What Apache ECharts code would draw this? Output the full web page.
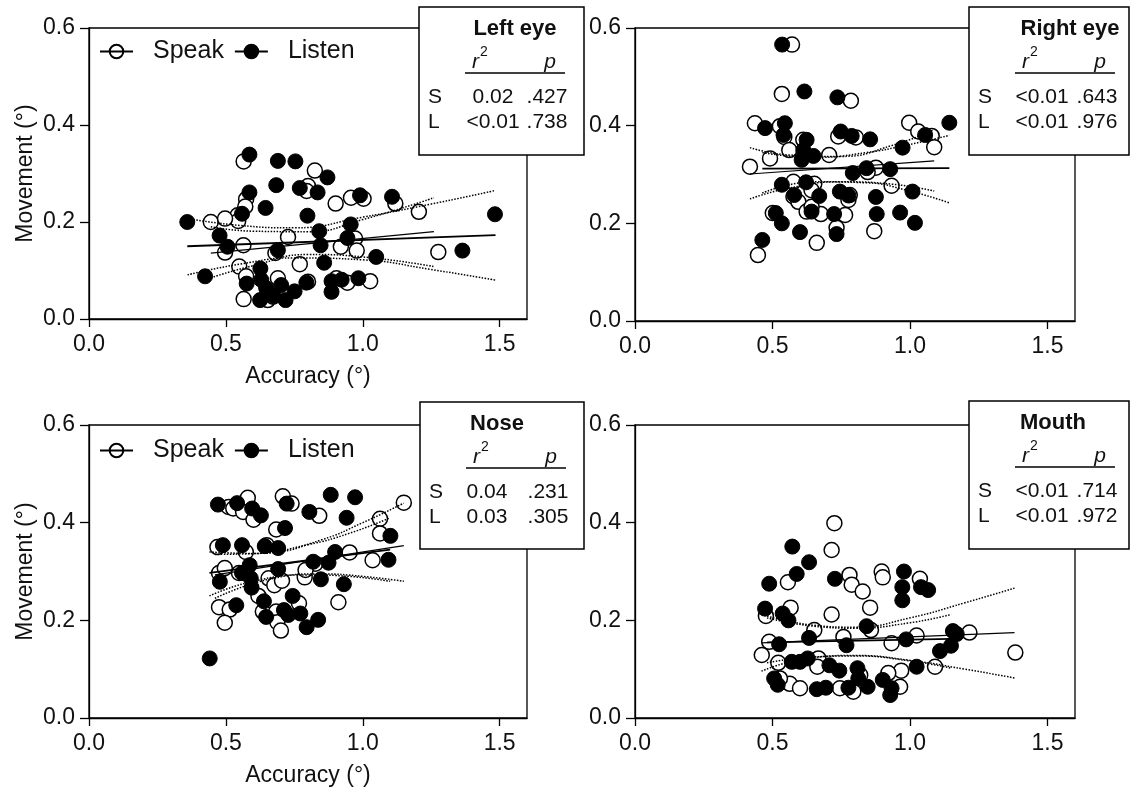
<!DOCTYPE html>
<html><head><meta charset="utf-8">
<script src="https://cdn.jsdelivr.net/npm/echarts@6/dist/echarts.min.js"></script>
<style>html,body{margin:0;padding:0;background:#fff}#c{width:1131px;height:794px}</style>
</head><body><div id="c"></div>
<script>
const FONT = '"Liberation Sans", Arial, sans-serif';

// ---------- tick labels ----------
const xTicks = [0, 0.5, 1.0, 1.5];
const yTicks = [0, 0.2, 0.4, 0.6];

// ---------- stats ----------
const panelTitles = ['Left eye', 'Right eye', 'Nose', 'Mouth'];
const speakR2 = ['0.02', '<0.01', '0.04', '<0.01'];
const speakP = ['.427', '.643', '.231', '.714'];
const listenR2 = ['<0.01', '<0.01', '0.03', '<0.01'];
const listenP = ['.738', '.976', '.305', '.972'];

// ---------- Left eye ----------
const leftEyeSpeak = [[0.565,0.325],[0.825,0.306],[0.800,0.274],[0.795,0.264],[0.574,0.247],[0.571,0.232],[0.543,0.214],[0.545,0.202],[0.445,0.200],[0.497,0.207],[0.901,0.238],[0.957,0.250],[1.003,0.248],[1.119,0.238],[1.205,0.221],[0.727,0.169],[0.972,0.166],[0.564,0.152],[0.497,0.137],[0.681,0.136],[0.920,0.149],[0.978,0.141],[1.276,0.138],[0.770,0.113],[0.549,0.108],[0.574,0.088],[0.690,0.084],[0.800,0.077],[0.904,0.084],[0.944,0.075],[1.027,0.078],[0.565,0.041],[0.653,0.039],[0.672,0.046]];
const leftEyeListen = [[0.586,0.339],[0.690,0.326],[0.754,0.325],[0.871,0.292],[0.684,0.276],[0.770,0.270],[0.835,0.261],[0.586,0.261],[0.645,0.229],[0.798,0.213],[0.990,0.255],[1.107,0.252],[1.483,0.216],[0.359,0.200],[0.559,0.217],[0.477,0.172],[0.506,0.149],[0.841,0.181],[0.956,0.195],[0.944,0.167],[0.846,0.152],[0.690,0.142],[1.049,0.128],[1.364,0.141],[0.424,0.088],[0.626,0.104],[0.859,0.116],[0.576,0.073],[0.629,0.081],[0.647,0.064],[0.702,0.070],[0.751,0.057],[0.794,0.075],[0.886,0.078],[0.923,0.081],[0.984,0.084],[0.886,0.056],[0.625,0.039],[0.675,0.047],[0.718,0.039]];
const leftEyeSpeakFit = [[0.445,0.136],[1.26,0.180]];
const leftEyeListenFit = [[0.359,0.150],[1.485,0.173]];
const leftEyeSpeakUpper = [[0.445,0.190],[0.6,0.181],[0.8,0.180],[1.0,0.205],[1.26,0.250]];
const leftEyeSpeakLower = [[0.445,0.085],[0.6,0.110],[0.8,0.133],[1.0,0.128],[1.26,0.108]];
const leftEyeListenUpper = [[0.36,0.207],[0.55,0.193],[0.75,0.188],[1.0,0.210],[1.25,0.237],[1.485,0.265]];
const leftEyeListenLower = [[0.36,0.091],[0.55,0.113],[0.75,0.126],[1.0,0.122],[1.25,0.102],[1.485,0.080]];

// ---------- Right eye ----------
const rightEyeSpeak = [[0.571,0.566],[0.534,0.465],[0.785,0.451],[0.436,0.405],[0.527,0.399],[0.543,0.377],[0.561,0.350],[0.491,0.333],[0.418,0.316],[0.612,0.371],[0.706,0.340],[0.739,0.378],[0.803,0.376],[0.997,0.406],[1.030,0.388],[1.079,0.379],[1.088,0.356],[0.876,0.314],[0.846,0.305],[0.933,0.277],[0.576,0.285],[0.652,0.281],[0.642,0.268],[0.576,0.255],[0.594,0.244],[0.776,0.248],[0.781,0.258],[0.624,0.224],[0.676,0.219],[0.764,0.217],[0.501,0.221],[0.642,0.234],[0.733,0.191],[0.870,0.184],[0.661,0.160],[0.447,0.135]];
const rightEyeListen = [[0.535,0.566],[0.616,0.470],[0.736,0.458],[0.473,0.395],[0.545,0.405],[0.624,0.371],[0.612,0.350],[0.606,0.330],[0.649,0.338],[0.540,0.381],[0.748,0.388],[0.788,0.379],[0.855,0.372],[0.973,0.355],[1.055,0.381],[1.143,0.406],[0.792,0.303],[0.842,0.313],[0.928,0.311],[0.534,0.279],[0.622,0.284],[0.579,0.258],[0.670,0.256],[0.745,0.265],[0.776,0.257],[0.876,0.254],[1.009,0.265],[0.512,0.221],[0.642,0.224],[0.724,0.219],[0.879,0.219],[0.964,0.222],[1.018,0.201],[0.534,0.200],[0.600,0.182],[0.733,0.178],[0.463,0.166]];
const rightEyeSpeakFit = [[0.418,0.301],[1.088,0.328]];
const rightEyeListenFit = [[0.463,0.312],[1.143,0.313]];
const rightEyeSpeakUpper = [[0.418,0.355],[0.559,0.340],[0.748,0.337],[0.938,0.360],[1.088,0.392]];
const rightEyeSpeakLower = [[0.418,0.250],[0.559,0.272],[0.748,0.285],[0.938,0.280],[1.088,0.266]];
const rightEyeListenUpper = [[0.463,0.345],[0.653,0.335],[0.843,0.345],[0.986,0.360],[1.143,0.380]];
const rightEyeListenLower = [[0.463,0.262],[0.653,0.285],[0.843,0.283],[0.986,0.268],[1.143,0.242]];

// ---------- Nose ----------
const noseSpeak = [[0.580,0.451],[0.510,0.432],[0.527,0.429],[0.563,0.422],[0.601,0.406],[0.708,0.454],[0.740,0.439],[0.841,0.414],[1.150,0.441],[1.063,0.408],[1.063,0.378],[0.684,0.386],[0.469,0.350],[0.573,0.340],[0.649,0.354],[0.952,0.339],[1.036,0.323],[0.475,0.297],[0.496,0.307],[0.548,0.297],[0.656,0.286],[0.677,0.272],[0.705,0.281],[0.788,0.288],[0.827,0.316],[0.791,0.303],[0.475,0.227],[0.514,0.222],[0.496,0.195],[0.619,0.250],[0.635,0.218],[0.684,0.218],[0.688,0.196],[0.701,0.179],[0.767,0.235],[0.911,0.237]];
const noseListen = [[0.471,0.437],[0.541,0.440],[0.596,0.429],[0.628,0.415],[0.722,0.439],[0.883,0.457],[0.972,0.452],[0.805,0.422],[0.941,0.410],[0.716,0.389],[0.489,0.354],[0.559,0.354],[0.642,0.352],[0.691,0.348],[1.101,0.373],[0.899,0.340],[0.875,0.318],[0.819,0.320],[1.094,0.324],[0.587,0.313],[0.691,0.305],[0.559,0.297],[0.591,0.286],[0.478,0.279],[0.594,0.267],[0.847,0.284],[0.931,0.274],[0.639,0.239],[0.744,0.250],[0.538,0.231],[0.647,0.207],[0.712,0.221],[0.728,0.211],[0.772,0.214],[0.837,0.201],[0.795,0.186],[0.441,0.122]];
const noseSpeakFit = [[0.46,0.293],[1.15,0.353]];
const noseListenFit = [[0.44,0.297],[1.10,0.345]];
const noseSpeakUpper = [[0.46,0.335],[0.65,0.338],[0.85,0.365],[1.0,0.400],[1.15,0.440]];
const noseSpeakLower = [[0.46,0.245],[0.65,0.283],[0.85,0.295],[1.0,0.290],[1.15,0.280]];
const noseListenUpper = [[0.44,0.340],[0.6,0.337],[0.8,0.355],[0.95,0.378],[1.10,0.410]];
const noseListenLower = [[0.44,0.250],[0.6,0.280],[0.8,0.293],[0.95,0.290],[1.10,0.280]];

// ---------- Mouth ----------
const mouthSpeak = [[0.725,0.399],[0.715,0.344],[0.556,0.278],[0.780,0.293],[0.788,0.273],[0.828,0.259],[0.897,0.300],[0.901,0.288],[1.036,0.285],[0.566,0.226],[0.476,0.209],[0.715,0.212],[0.855,0.226],[0.858,0.180],[0.652,0.180],[0.758,0.166],[0.933,0.153],[1.024,0.169],[1.216,0.175],[1.383,0.134],[0.488,0.156],[0.461,0.129],[0.521,0.113],[0.667,0.122],[0.663,0.105],[1.091,0.105],[0.968,0.097],[0.921,0.092],[0.819,0.088],[0.563,0.070],[0.600,0.061],[0.745,0.061],[0.964,0.064],[0.794,0.054],[0.527,0.081]];
const mouthListen = [[0.572,0.351],[0.633,0.319],[0.588,0.295],[0.488,0.275],[0.727,0.285],[0.978,0.300],[0.972,0.268],[0.972,0.241],[1.040,0.268],[1.066,0.262],[0.473,0.224],[0.537,0.214],[0.558,0.200],[0.842,0.188],[0.633,0.164],[0.524,0.151],[0.769,0.149],[0.986,0.161],[1.156,0.178],[1.170,0.172],[1.149,0.148],[1.109,0.137],[0.570,0.115],[0.600,0.115],[0.628,0.122],[0.707,0.108],[0.743,0.097],[0.809,0.102],[1.024,0.105],[0.506,0.081],[0.519,0.068],[0.661,0.059],[0.694,0.062],[0.776,0.062],[0.812,0.081],[0.846,0.064],[0.901,0.078],[0.933,0.061],[0.928,0.047]];
const mouthSpeakFit = [[0.46,0.154],[1.38,0.175]];
const mouthListenFit = [[0.48,0.155],[1.15,0.162]];
const mouthSpeakUpper = [[0.46,0.212],[0.65,0.190],[0.8,0.186],[1.0,0.205],[1.2,0.236],[1.38,0.266]];
const mouthSpeakLower = [[0.46,0.096],[0.65,0.124],[0.8,0.128],[1.0,0.118],[1.2,0.100],[1.38,0.082]];
const mouthListenUpper = [[0.48,0.205],[0.65,0.188],[0.8,0.184],[1.0,0.195],[1.15,0.212]];
const mouthListenLower = [[0.48,0.113],[0.65,0.125],[0.8,0.127],[1.0,0.117],[1.15,0.102]];

const panels = [
  {speak: leftEyeSpeak, listen: leftEyeListen, sFit: leftEyeSpeakFit, lFit: leftEyeListenFit, bands: [leftEyeSpeakUpper, leftEyeSpeakLower, leftEyeListenUpper, leftEyeListenLower]},
  {speak: rightEyeSpeak, listen: rightEyeListen, sFit: rightEyeSpeakFit, lFit: rightEyeListenFit, bands: [rightEyeSpeakUpper, rightEyeSpeakLower, rightEyeListenUpper, rightEyeListenLower]},
  {speak: noseSpeak, listen: noseListen, sFit: noseSpeakFit, lFit: noseListenFit, bands: [noseSpeakUpper, noseSpeakLower, noseListenUpper, noseListenLower]},
  {speak: mouthSpeak, listen: mouthListen, sFit: mouthSpeakFit, lFit: mouthListenFit, bands: [mouthSpeakUpper, mouthSpeakLower, mouthListenUpper, mouthListenLower]}
];

// ---------- layout (pixels) ----------
const grids = [
  {left: 89, top: 28, width: 438, height: 291},
  {left: 635, top: 28, width: 440, height: 293},
  {left: 89, top: 425, width: 438, height: 293},
  {left: 635, top: 425, width: 440, height: 293}
];
const boxes = [
  {x: 419, y: 7, w: 165, h: 148, t: 96, v: 74},
  {x: 969, y: 7, w: 160, h: 148, t: 101, v: 73},
  {x: 420, y: 402, w: 164, h: 147, t: 77, v: 67},
  {x: 969, y: 401, w: 160, h: 148, t: 84, v: 73}
];

const chart = echarts.init(document.getElementById('c'), null, {renderer: 'canvas'});

const xAxes = [], yAxes = [], series = [], graphics = [];
grids.forEach((g, i) => {
  const isLeft = i % 2 === 0;
  xAxes.push({
    type: 'value', gridIndex: i, min: 0, max: 1.6, interval: 0.5,
    axisLine: {show: true, onZero: false, lineStyle: {color: '#000', width: 1.3}},
    axisTick: {show: true, length: 8, customValues: xTicks, lineStyle: {color: '#000', width: 1.3}},
    axisLabel: {customValues: xTicks, formatter: v => v.toFixed(1), fontSize: 23, margin: 14, color: '#111', fontFamily: FONT},
    splitLine: {show: false},
    name: isLeft ? 'Accuracy (°)' : '', nameLocation: 'middle', nameGap: 46,
    nameTextStyle: {fontSize: 23, color: '#111', fontFamily: FONT}
  });
  yAxes.push({
    type: 'value', gridIndex: i, min: 0, max: 0.6, interval: 0.2,
    axisLine: {show: true, onZero: false, lineStyle: {color: '#000', width: 1.3}},
    axisTick: {show: true, length: 9, customValues: yTicks, lineStyle: {color: '#000', width: 1.3}},
    axisLabel: {customValues: yTicks, formatter: v => v.toFixed(1), fontSize: 23, margin: 14, color: '#111', fontFamily: FONT},
    splitLine: {show: false},
    name: isLeft ? 'Movement (°)' : '', nameLocation: 'middle', nameGap: 52,
    nameTextStyle: {fontSize: 23, color: '#111', fontFamily: FONT}
  });
  const p = panels[i];
  series.push({
    type: 'scatter', name: 'Speak', xAxisIndex: i, yAxisIndex: i, data: p.speak,
    symbol: 'circle', symbolSize: 15, z: 2,
    itemStyle: {color: '#fff', borderColor: '#000', borderWidth: 1.5, opacity: 1}
  });
  series.push({
    type: 'scatter', name: 'Listen', xAxisIndex: i, yAxisIndex: i, data: p.listen,
    symbol: 'circle', symbolSize: 15, z: 3,
    itemStyle: {color: '#000', borderColor: '#000', borderWidth: 1, opacity: 1}
  });
  series.push({
    type: 'line', name: 'fitS' + i, xAxisIndex: i, yAxisIndex: i, data: p.sFit,
    showSymbol: false, symbol: 'none', silent: true, z: 4,
    lineStyle: {color: '#000', width: 1.2}
  });
  series.push({
    type: 'line', name: 'fitL' + i, xAxisIndex: i, yAxisIndex: i, data: p.lFit,
    showSymbol: false, symbol: 'none', silent: true, z: 4,
    lineStyle: {color: '#000', width: 1.8}
  });
  p.bands.forEach((b, k) => {
    series.push({
      type: 'line', name: 'band' + i + '_' + k, xAxisIndex: i, yAxisIndex: i, data: b,
      showSymbol: false, symbol: 'none', silent: true, smooth: true, z: 4,
      lineStyle: {color: '#000', width: 1.5, type: 'dotted'}
    });
  });

  // stats box
  const bx = boxes[i];
  graphics.push({type: 'rect', z: 100, shape: {x: bx.x, y: bx.y, width: bx.w, height: bx.h},
    style: {fill: '#fff', stroke: '#000', lineWidth: 1.5}});
  const txt = (s, x, y, align, size, weight, italic) => ({
    type: 'text', z: 101, x: x, y: y,
    style: {text: s, align: align, verticalAlign: 'middle', fontSize: size, fontWeight: weight || 'normal',
      fontStyle: italic ? 'italic' : 'normal', fontFamily: FONT, fill: '#111'}
  });
  graphics.push(txt(panelTitles[i], bx.x + bx.t, bx.y + 22, 'center', 22, 'bold'));
  graphics.push(txt('r', bx.x + 53, bx.y + 55, 'left', 21, 'normal', true));
  graphics.push(txt('2', bx.x + 61, bx.y + 45, 'left', 14));
  graphics.push(txt('p', bx.x + 131, bx.y + 55, 'center', 21, 'normal', true));
  graphics.push({type: 'line', z: 101, shape: {x1: bx.x + 46, y1: bx.y + 66, x2: bx.x + 146, y2: bx.y + 66},
    style: {stroke: '#000', lineWidth: 1.5}});
  graphics.push(txt('S', bx.x + 9, bx.y + 90, 'left', 21));
  graphics.push(txt(speakR2[i], bx.x + bx.v, bx.y + 90, 'center', 21));
  graphics.push(txt(speakP[i], bx.x + 128, bx.y + 90, 'center', 21));
  graphics.push(txt('L', bx.x + 9, bx.y + 115, 'left', 21));
  graphics.push(txt(listenR2[i], bx.x + bx.v, bx.y + 115, 'center', 21));
  graphics.push(txt(listenP[i], bx.x + 128, bx.y + 115, 'center', 21));
});

const legendIcon = 'path://M0,7L34,7M24,7A7,7,0,1,1,10,7A7,7,0,1,1,24,7Z';
const mkLegend = top => ({
  left: 99, top: top, padding: 0, itemWidth: 33, itemHeight: 14, itemGap: 10, selectedMode: false,
  data: [{name: 'Speak', icon: legendIcon}, {name: 'Listen', icon: legendIcon}],
  formatter: n => '{a|' + n + '}',
  textStyle: {fontSize: 25, color: '#111', fontFamily: FONT,
    rich: {a: {fontSize: 25, color: '#111', fontFamily: FONT, padding: [0, 0, 0, 15]}}}
});

chart.setOption({
  animation: false,
  backgroundColor: '#fff',
  grid: grids.map(g => Object.assign({show: true, borderColor: '#000', borderWidth: 1.3, backgroundColor: 'transparent'}, g)),
  xAxis: xAxes,
  yAxis: yAxes,
  legend: [mkLegend(39), mkLegend(438)],
  series: series,
  graphic: graphics
});
</script>
</body></html>
